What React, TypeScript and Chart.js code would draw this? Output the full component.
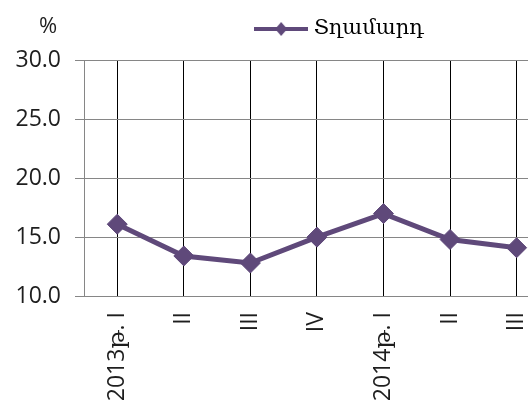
import React, { useEffect, useRef } from 'react';
import { Chart, registerables } from 'chart.js';

Chart.register(...registerables);

// ---- data ----
const categories: string[] = ['2013թ. I', 'II', 'III', 'IV', '2014թ. I', 'II', 'III', 'IV', '2015թ. I'];
const maleValues: (number | null)[] = [16.1, 13.4, 12.8, 15.0, 17.0, 14.8, 14.1, null, null];
const seriesLabel = 'Տղամարդ';
const yTickValues: number[] = [10, 15, 20, 25, 30];
const yUnitLabel = '%';

const LINE_COLOR = '#5F497A';
const GRID_GRAY = '#868686';
const TEXT_COLOR = '#1e1e1e';
const AXIS_FONT = { family: "'Open Sans', 'DejaVu Serif', sans-serif", size: 23 };

function makeLegendSymbol(color: string): HTMLCanvasElement {
  const c = document.createElement('canvas');
  c.width = 54;
  c.height = 16;
  const ctx = c.getContext('2d')!;
  ctx.strokeStyle = color;
  ctx.lineWidth = 4;
  ctx.beginPath();
  ctx.moveTo(0, 8);
  ctx.lineTo(54, 8);
  ctx.stroke();
  ctx.fillStyle = color;
  ctx.beginPath();
  ctx.moveTo(27, 1);
  ctx.lineTo(33, 8);
  ctx.lineTo(27, 15);
  ctx.lineTo(21, 8);
  ctx.closePath();
  ctx.fill();
  return c;
}

// adds vertical room between the legend and the plot area
const legendSpacer = {
  id: 'legendSpacer',
  beforeInit(chart: any) {
    const legend = chart.legend;
    if (!legend) return;
    const origFit = legend.fit;
    legend.fit = function () {
      origFit.call(this);
      this.height += 11;
    };
  },
};

export default function App() {
  const canvasRef = useRef<HTMLCanvasElement | null>(null);

  useEffect(() => {
    if (!canvasRef.current) return;
    const symbol = makeLegendSymbol(LINE_COLOR);
    const chart = new Chart(canvasRef.current, {
      type: 'line',
      data: {
        labels: categories,
        datasets: [
          {
            label: seriesLabel,
            data: maleValues,
            borderColor: LINE_COLOR,
            backgroundColor: LINE_COLOR,
            borderWidth: 5,
            pointStyle: 'rectRot',
            pointRadius: 10,
            pointBackgroundColor: LINE_COLOR,
            pointBorderColor: LINE_COLOR,
            pointBorderWidth: 1,
            tension: 0,
            spanGaps: false,
          },
        ],
      },
      plugins: [legendSpacer],
      options: {
        responsive: false,
        animation: false,
        layout: { padding: { left: 0, right: 17, top: 0, bottom: 0 } },
        plugins: {
          tooltip: { enabled: false },
          legend: {
            display: true,
            position: 'top',
            labels: {
              usePointStyle: true,
              pointStyleWidth: 44,
              padding: 23.5,
              color: '#000',
              font: { family: "'DejaVu Serif', serif", size: 21 },
              generateLabels: (ch: any) => {
                const items = Chart.defaults.plugins.legend.labels.generateLabels(ch);
                return items.map((it: any) => ({ ...it, pointStyle: symbol, lineWidth: 0 }));
              },
            },
          },
        },
        scales: {
          x: {
            type: 'category',
            offset: true,
            grid: { offset: false, color: '#000', lineWidth: 1, drawTicks: false },
            border: { color: GRID_GRAY, width: 1 },
            ticks: {
              autoSkip: false,
              minRotation: 90,
              maxRotation: 90,
              padding: 16,
              color: TEXT_COLOR,
              font: AXIS_FONT,
            },
            afterFit: (s: any) => {
              s.height = 129;
            },
          },
          y: {
            min: 10,
            max: 30,
            afterBuildTicks: (s: any) => {
              s.ticks = yTickValues.map((v) => ({ value: v }));
            },
            grid: { color: GRID_GRAY, lineWidth: 1, tickLength: 9, drawTicks: true },
            border: { color: GRID_GRAY, width: 1 },
            ticks: {
              padding: 14,
              color: TEXT_COLOR,
              font: AXIS_FONT,
              callback: (v: any) => Number(v).toFixed(1),
            },
            afterFit: (s: any) => {
              s.width = 84;
            },
          },
        },
      },
    } as any);
    return () => chart.destroy();
  }, []);

  return (
    <div
      style={{
        position: 'fixed',
        left: 0,
        top: 0,
        width: 528,
        height: 405,
        overflow: 'hidden',
        background: '#fff',
      }}
    >
      <canvas
        ref={canvasRef}
        width={700}
        height={430}
        style={{ position: 'absolute', left: 0, top: -5, display: 'block' }}
      />
      <div
        style={{
          position: 'absolute',
          left: 39,
          top: 13,
          fontFamily: "'Open Sans', sans-serif",
          fontSize: 22,
          lineHeight: 1,
          color: TEXT_COLOR,
        }}
      >
        {yUnitLabel}
      </div>
    </div>
  );
}
